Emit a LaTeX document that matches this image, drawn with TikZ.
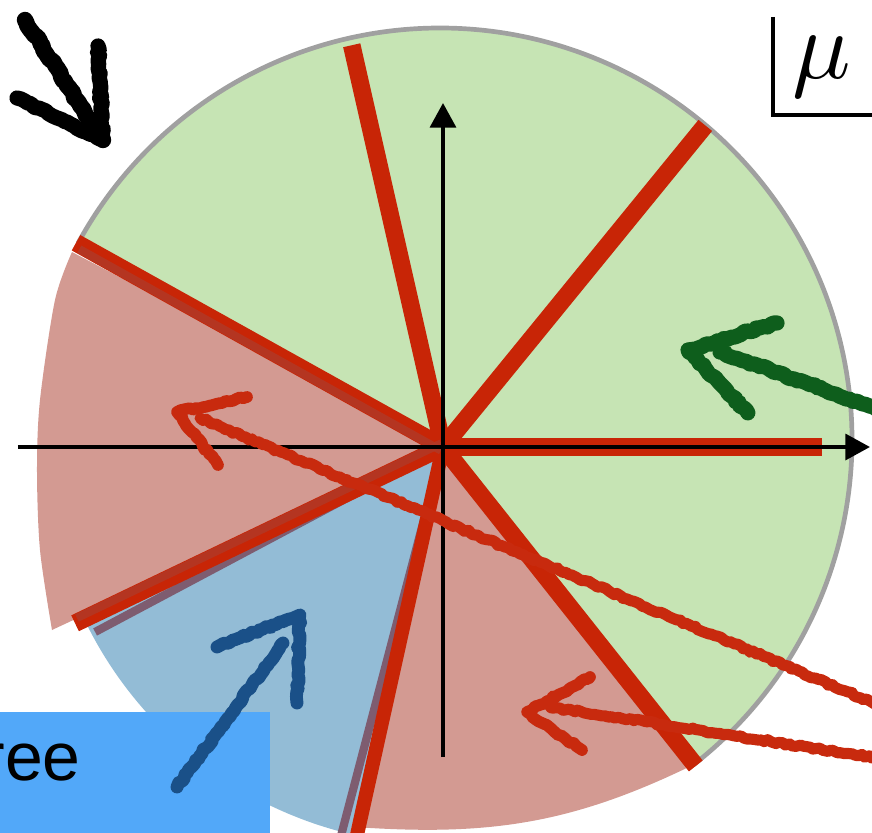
\documentclass[tikz,border=0pt]{standalone}
\usepackage{fontspec}
\newfontfamily\boxfont{Liberation Sans}
\usetikzlibrary{arrows.meta,decorations.pathmorphing}
\definecolor{piegreen}{HTML}{C6E4B4}
\definecolor{piepink}{HTML}{D39A92}
\definecolor{pieblue}{HTML}{93BCD6}
\definecolor{cutred}{HTML}{C82506}
\definecolor{cutdark}{HTML}{B03A28}
\definecolor{edgegray}{HTML}{A0A0A0}
\definecolor{edgeplum}{HTML}{7E5C70}
\definecolor{inkgreen}{HTML}{0E5E1C}
\definecolor{inkblue}{HTML}{1A5088}
\definecolor{inkred}{HTML}{C82A0E}
\definecolor{noteblue}{HTML}{52A8F9}

\begin{document}
\begin{tikzpicture}[
  x=0.03cm, y=0.03cm,
  cut/.style={line width=15pt,cutred},
  axis/.style={line width=3.4pt,-{Triangle[length=21pt,width=22pt]}},
  chalk/.style={line width=#1,line cap=round,line join=round,
    decorate,decoration={random steps,segment length=3pt,amplitude=1.1pt}},
]
\useasboundingbox (-443,-385) rectangle (429,447);
\clip (-443,-385) rectangle (429,447);
\coordinate (O) at (0,0);
\coordinate (C) at (-3,7);

% pie pieces
\fill[piegreen] (O) -- ([shift={(C)}]-52:412) arc[start angle=-52,end angle=151.5,radius=412] -- cycle;
\draw[edgegray,line width=4pt] ([shift={(C)}]-52:412) arc[start angle=-52,end angle=151.5,radius=412];
\fill[piepink] (O) -- plot[smooth] coordinates {(-371,195) (-388,147) (-403,47) (-406,-23) (-403,-103) (-391,-183)} -- cycle;
\fill[piepink] (O) -- (-88,-380) to[out=-4,in=206] ([shift={(C)}]-52:412) -- cycle;
\fill[pieblue] (O) -- (206.5:398) arc[start angle=206.5,end angle=256.5,radius=398] -- cycle;
\draw[edgeplum,line width=7pt] (208:394) -- (O) -- (255.3:420);

% cuts
\foreach \ang/\len in {102.8/412, 50.8/415, 0/379, -51.6/407, 205.6/408, 150.9/420}
  \draw[cut] (O) -- (\ang:\len);
\draw[cut,line width=12pt] (O) -- (-102.5:430);
\draw[cutdark,line width=7pt,opacity=.8] ([shift={(240.9:4)}]O) -- ++(150.9:414);
\draw[cutdark,line width=7pt,opacity=.8] ([shift={(115.6:4)}]O) -- ++(205.6:404);

% axes
\coordinate (xl) at (-425,0);
\coordinate (xr) at (427,0);
\coordinate (yb) at (0,-310);
\coordinate (yt) at (0,344);
\draw[axis] (xl) -- (xr);
\draw[axis] (yb) -- (yt);

% note box
\fill[noteblue] (-443,-265) rectangle (-173,-400);
\node[anchor=base east,inner sep=0,font=\boxfont\fontsize{58}{60}\selectfont] (freelbl) at (-362,-333) {ree};

% mu corner
\coordinate (mutop) at (330,430);
\coordinate (mucorner) at (330,332);
\coordinate (muright) at (432,332);
\draw[line width=3.4pt] (mutop) -- (mucorner) -- (muright);
\node[inner sep=0,scale=8.3] (mulbl) at (379,380) {$\mu$};

% hand drawn arrows
\coordinate (blktail) at (-418,427);
\coordinate (blktip) at (-340,307);
\coordinate (blkarmA) at (-345,401);
\coordinate (blkarmB) at (-426,349);
\draw[chalk=14pt,black] (blktail) -- (blktip);
\draw[chalk=13pt,black] (blkarmA) -- (blktip) -- (blkarmB);

\coordinate (grntail) at (440,36);
\coordinate (grnend) at (277,95);
\coordinate (grntip) at (245,97);
\coordinate (grnarmA) at (334,124);
\coordinate (grnarmB) at (305,34);
\draw[chalk=13pt,inkgreen] (grntail) -- (grnend);
\draw[chalk=13pt,inkgreen] (grnarmA) -- (grntip) -- (grnarmB);

\coordinate (blutail) at (-266,-340);
\coordinate (bluend) at (-160,-196);
\coordinate (blutip) at (-143,-168);
\coordinate (bluarmA) at (-226,-200);
\coordinate (bluarmB) at (-146,-256);
\draw[chalk=11pt,inkblue] (blutail) -- (bluend);
\draw[chalk=11pt,inkblue] (bluarmA) -- (blutip) -- (bluarmB);

\coordinate (redAtail) at (440,-260);
\coordinate (redAend) at (-243,29);
\coordinate (redAtip) at (-266,35);
\coordinate (redAarmA) at (-196,50);
\coordinate (redAarmB) at (-225,-18);
\draw[chalk=9.5pt,inkred] (redAtail) -- (redAend);
\draw[chalk=10pt,inkred] (redAarmA) -- (redAtip) -- (redAarmB);

\coordinate (redBtail) at (440,-312);
\coordinate (redBend) at (107,-260);
\coordinate (redBtip) at (84,-265);
\coordinate (redBarmA) at (147,-230);
\coordinate (redBarmB) at (139,-303);
\draw[chalk=9.5pt,inkred] (redBtail) -- (redBend);
\draw[chalk=10pt,inkred] (redBarmA) -- (redBtip) -- (redBarmB);
\end{tikzpicture}
\end{document}
